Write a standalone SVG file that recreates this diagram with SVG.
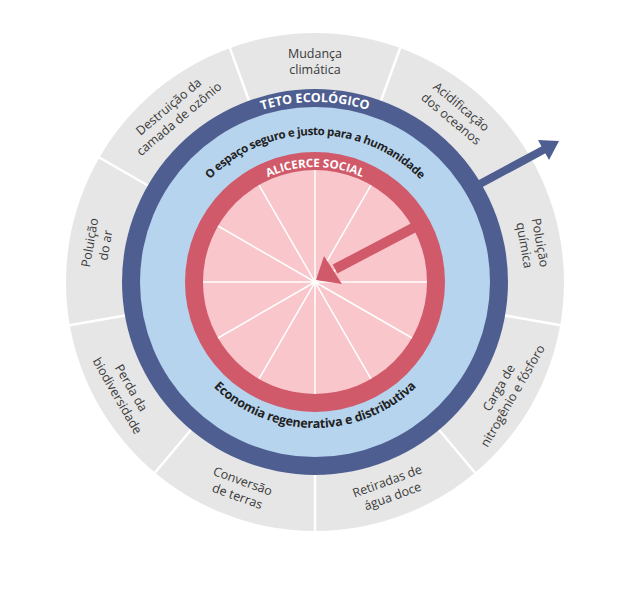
<svg xmlns="http://www.w3.org/2000/svg" width="630" height="594" viewBox="0 0 630 594">
<style>
.lbl{font-family:"Open Sans","Noto Sans",sans-serif;font-size:12.5px;fill:#3a3a3a;text-anchor:middle}
.arc{font-family:"Open Sans","Noto Sans",sans-serif;font-weight:bold;text-anchor:middle}
.sep{stroke:#fff;stroke-width:2.5}
.spoke{stroke:#fff;stroke-width:1.5}
</style>
<defs>
<path id="pTeto" d="M135,282 A180,180 0 0 1 495,282"/>
<path id="pEsp" d="M168,282 A147,147 0 0 1 462,282"/>
<path id="pAli" d="M200,282 A115,115 0 0 1 430,282"/>
<path id="pEco" d="M169,282 A146,146 0 0 0 461,282"/>
</defs>
<rect width="630" height="594" fill="#fff"/>
<g id="outer">
<circle cx="315" cy="282" r="249" fill="#e6e6e6"/>
<g class="sep">
<line x1="315" y1="282" x2="315" y2="30" transform="rotate(20 315 282)"/>
<line x1="315" y1="282" x2="315" y2="30" transform="rotate(60 315 282)"/>
<line x1="315" y1="282" x2="315" y2="30" transform="rotate(100 315 282)"/>
<line x1="315" y1="282" x2="315" y2="30" transform="rotate(140 315 282)"/>
<line x1="315" y1="282" x2="315" y2="30" transform="rotate(180 315 282)"/>
<line x1="315" y1="282" x2="315" y2="30" transform="rotate(220 315 282)"/>
<line x1="315" y1="282" x2="315" y2="30" transform="rotate(260 315 282)"/>
<line x1="315" y1="282" x2="315" y2="30" transform="rotate(300 315 282)"/>
<line x1="315" y1="282" x2="315" y2="30" transform="rotate(340 315 282)"/>
</g>
</g>
<g id="labels">
<g transform="translate(315,62)"><text class="lbl"><tspan x="0" y="-4">Mudança</tspan><tspan x="0" y="12">climática</tspan></text></g>
<g transform="translate(456,113) rotate(40)"><text class="lbl"><tspan x="0" y="-4">Acidificação</tspan><tspan x="0" y="12">dos oceanos</tspan></text></g>
<g transform="translate(532,244) rotate(80)"><text class="lbl"><tspan x="0" y="-4">Poluição</tspan><tspan x="0" y="12">química</tspan></text></g>
<g transform="translate(506,392) rotate(-60)"><text class="lbl"><tspan x="0" y="-4">Carga de</tspan><tspan x="0" y="12">nitrogênio e fósforo</tspan></text></g>
<g transform="translate(390,489) rotate(-20)"><text class="lbl"><tspan x="0" y="-4">Retiradas de</tspan><tspan x="0" y="12">água doce</tspan></text></g>
<g transform="translate(240,489) rotate(20)"><text class="lbl"><tspan x="0" y="-4">Conversão</tspan><tspan x="0" y="12">de terras</tspan></text></g>
<g transform="translate(124,392) rotate(60)"><text class="lbl"><tspan x="0" y="-4">Perda da</tspan><tspan x="0" y="12">biodiversidade</tspan></text></g>
<g transform="translate(98,244) rotate(-80)"><text class="lbl"><tspan x="0" y="-4">Poluição</tspan><tspan x="0" y="12">do ar</tspan></text></g>
<g transform="translate(174,113) rotate(-40)"><text class="lbl"><tspan x="0" y="-4">Destruição da</tspan><tspan x="0" y="12">camada de ozônio</tspan></text></g>
</g>
<g id="ceiling">
<circle cx="315" cy="282" r="193" fill="#4e5e91"/>
<circle cx="315" cy="282" r="175" fill="#b6d4ee"/>
<text class="arc" font-size="12.5" fill="#fff"><textPath href="#pTeto" startOffset="50%">TETO ECOLÓGICO</textPath></text>
<text class="arc" font-size="11.5" letter-spacing="-0.4" fill="#222"><textPath href="#pEsp" startOffset="50%">O espaço seguro e justo para a humanidade</textPath></text>
<text class="arc" font-size="12.5" letter-spacing="-0.2" fill="#222"><textPath href="#pEco" startOffset="50%">Economia regenerativa e distributiva</textPath></text>
</g>
<g id="foundation">
<circle cx="315" cy="282" r="130" fill="#d05a6a"/>
<circle cx="315" cy="282" r="112" fill="#f9c6cc"/>
<g class="spoke">
<line x1="315" y1="170" x2="315" y2="394"/>
<line x1="203" y1="282" x2="427" y2="282"/>
<line x1="315" y1="282" x2="315" y2="170" transform="rotate(30 315 282)"/>
<line x1="315" y1="282" x2="315" y2="170" transform="rotate(60 315 282)"/>
<line x1="315" y1="282" x2="315" y2="170" transform="rotate(120 315 282)"/>
<line x1="315" y1="282" x2="315" y2="170" transform="rotate(150 315 282)"/>
<line x1="315" y1="282" x2="315" y2="170" transform="rotate(210 315 282)"/>
<line x1="315" y1="282" x2="315" y2="170" transform="rotate(240 315 282)"/>
<line x1="315" y1="282" x2="315" y2="170" transform="rotate(300 315 282)"/>
<line x1="315" y1="282" x2="315" y2="170" transform="rotate(330 315 282)"/>
</g>
<text class="arc" font-size="11.5" fill="#fff"><textPath href="#pAli" startOffset="50%">ALICERCE SOCIAL</textPath></text>
</g>
<g id="connectors">
<line x1="417" y1="226" x2="335" y2="269" stroke="#d05a6a" stroke-width="10"/>
<polygon points="316,280 324,256 342,284" fill="#d05a6a"/>
<line x1="478" y1="185" x2="545" y2="149" stroke="#4e5e91" stroke-width="8"/>
<polygon points="559,141 538,140 549,160" fill="#4e5e91"/>
</g>
</svg>
